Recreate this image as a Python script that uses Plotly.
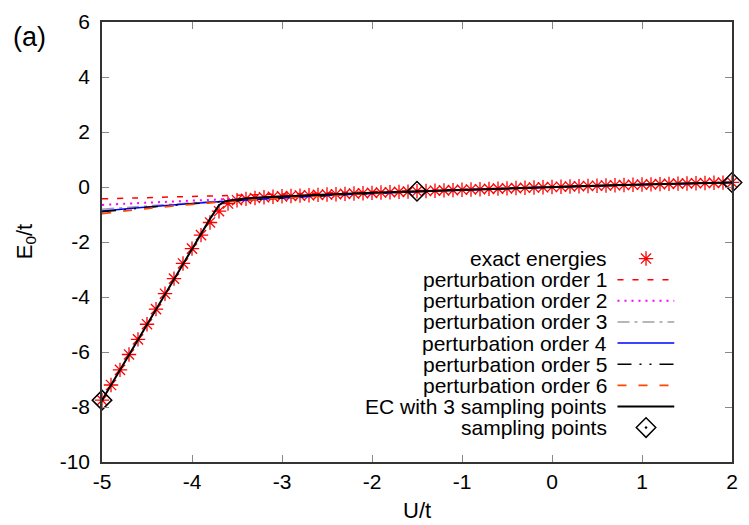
import plotly.graph_objects as go

# ---------------- data ----------------
U_exact = [-5.0, -4.9, -4.8, -4.7, -4.6, -4.5, -4.4, -4.3, -4.2, -4.1,
           -4.0, -3.9, -3.8, -3.7, -3.6, -3.5, -3.4, -3.3, -3.2, -3.1,
           -3.0, -2.9, -2.8, -2.7, -2.6, -2.5, -2.4, -2.3, -2.2, -2.1,
           -2.0, -1.9, -1.8, -1.7, -1.6, -1.5, -1.4, -1.3, -1.2, -1.1,
           -1.0, -0.9, -0.8, -0.7, -0.6, -0.5, -0.4, -0.3, -0.2, -0.1,
           0.0, 0.1, 0.2, 0.3, 0.4, 0.5, 0.6, 0.7, 0.8, 0.9,
           1.0, 1.1, 1.2, 1.3, 1.4, 1.5, 1.6, 1.7, 1.8, 1.9, 2.0]
E_exact = [-7.75, -7.20, -6.65, -6.09, -5.54, -4.99, -4.44, -3.88, -3.33, -2.78,
           -2.24, -1.75, -1.29, -0.88, -0.60, -0.48, -0.43, -0.40, -0.375, -0.355,
           -0.339, -0.326, -0.313, -0.300, -0.288, -0.275, -0.263, -0.250, -0.238, -0.226,
           -0.214, -0.202, -0.190, -0.179, -0.167, -0.156, -0.145, -0.134, -0.123, -0.112,
           -0.101, -0.090, -0.080, -0.069, -0.059, -0.049, -0.039, -0.029, -0.019, -0.010,
           0.000, 0.009, 0.019, 0.028, 0.037, 0.046, 0.055, 0.064, 0.072, 0.081,
           0.089, 0.097, 0.105, 0.113, 0.121, 0.129, 0.137, 0.144, 0.152, 0.159, 0.166]

U_pt = [-5.0, -4.5, -4.0, -3.5, -3.0, -2.5, -2.0, -1.5, -1.0, -0.5, 0.0, 0.5, 1.0, 1.5, 2.0]
E_pt1 = [-0.430, -0.387, -0.344, -0.301, -0.258, -0.215, -0.172, -0.129, -0.086, -0.043, 0.0, 0.043, 0.086, 0.129, 0.172]
E_pt2 = [-0.650, -0.572, -0.496, -0.424, -0.354, -0.288, -0.224, -0.164, -0.106, -0.052, 0.0, 0.046, 0.089, 0.129, 0.166]
E_pt3 = [-0.810, -0.689, -0.578, -0.478, -0.389, -0.308, -0.234, -0.168, -0.107, -0.052, 0.0, 0.046, 0.089, 0.129, 0.166]
E_pt4 = [-0.870, -0.728, -0.603, -0.492, -0.397, -0.311, -0.236, -0.169, -0.107, -0.052, 0.0, 0.046, 0.089, 0.129, 0.166]
E_pt5 = [-0.900, -0.746, -0.613, -0.497, -0.399, -0.312, -0.236, -0.169, -0.107, -0.052, 0.0, 0.046, 0.089, 0.129, 0.166]
E_pt6 = [-0.970, -0.783, -0.631, -0.505, -0.402, -0.313, -0.236, -0.169, -0.107, -0.052, 0.0, 0.046, 0.089, 0.129, 0.166]

U_ec = [-5.0, -4.5, -4.0, -3.9, -3.8, -3.7, -3.65, -3.6, -3.5, -3.4, -3.2, -3.0,
        -2.5, -2.0, -1.5, -1.0, -0.5, 0.0, 0.5, 1.0, 1.5, 2.0]
E_ec = [-7.75, -4.99, -2.23, -1.69, -1.16, -0.66, -0.55, -0.50, -0.45, -0.42, -0.37, -0.337,
        -0.274, -0.213, -0.156, -0.100, -0.049, 0.0, 0.046, 0.089, 0.129, 0.166]

U_samp = [-5.0, -1.5, 2.0]
E_samp = [-7.75, -0.156, 0.166]

x_ticks = [-5, -4, -3, -2, -1, 0, 1, 2]
y_ticks = [-10, -8, -6, -4, -2, 0, 2, 4, 6]

legend_labels = ["exact energies", "perturbation order 1", "perturbation order 2",
                 "perturbation order 3", "perturbation order 4", "perturbation order 5",
                 "perturbation order 6", "EC with 3 sampling points", "sampling points"]

# ---------------- styles ----------------
FONT = "Liberation Sans, Arial, Helvetica, sans-serif"
W, H = 749, 525
L, R, T, B = 102.3, 738.3, 20.0, 462.3   # plot frame in pixels

pt_styles = [
    (E_pt1, "#ff0000", "6px,9px", 1.5),
    (E_pt2, "#ff00ff", "2px,5px", 2.0),
    (E_pt3, "#a0a0a0", "12px,5px,3px,5px", 1.5),
    (E_pt4, "#0000ff", "solid", 1.5),
    (E_pt5, "#000000", "14px,8px,2px,8px,2px,8px", 1.5),
    (E_pt6, "#ff4500", "9px,12px", 1.8),
]

star_marker = dict(symbol="asterisk-open", size=12, color="#ff0000",
                   line=dict(color="#ff0000", width=1.3))
diamond_marker = dict(symbol="diamond-open-dot", size=15, color="#000000",
                      line=dict(color="#000000", width=1.5))


def px_x(p):
    return (p - L) / (R - L)


def px_y(p):
    return (B - p) / (B - T)


fig = go.Figure()

fig.add_trace(go.Scatter(x=U_exact, y=E_exact, mode="markers", marker=star_marker,
                         cliponaxis=False, showlegend=False))
for ys, col, dash, wdt in pt_styles:
    fig.add_trace(go.Scatter(x=U_pt, y=ys, mode="lines", line_shape="spline",
                             line=dict(color=col, dash=dash, width=wdt),
                             showlegend=False))
fig.add_trace(go.Scatter(x=U_ec, y=E_ec, mode="lines",
                         line=dict(color="#000000", width=2), showlegend=False))
fig.add_trace(go.Scatter(x=U_samp, y=E_samp, mode="markers", marker=diamond_marker,
                         cliponaxis=False, showlegend=False))

# ---------------- manual gnuplot-style legend ----------------
row_y = [257.8, 279.0, 300.3, 321.5, 342.8, 364.0, 385.2, 406.5, 427.7]
text_right = 614.0
samp_l, samp_r, samp_c = 622.7, 680.0, 651.5

for lab, yy in zip(legend_labels, row_y):
    fig.add_annotation(x=px_x(text_right), y=px_y(yy), xref="paper", yref="paper",
                       text=lab, showarrow=False, xanchor="right", yanchor="middle",
                       font=dict(family=FONT, size=21, color="#000000"))

line_rows = [(s[1], s[2], s[3]) for s in pt_styles] + [("#000000", "solid", 2)]
for (col, dash, wdt), yy in zip(line_rows, row_y[1:8]):
    fig.add_shape(type="line", xref="paper", yref="paper",
                  x0=px_x(samp_l), x1=px_x(samp_r), y0=px_y(yy), y1=px_y(yy),
                  line=dict(color=col, dash=dash, width=wdt))

# legend marker samples on a hidden overlay axis pair (0..1 = plot area)
fig.add_trace(go.Scatter(x=[px_x(samp_c)], y=[px_y(row_y[0])], xaxis="x2", yaxis="y2",
                         mode="markers", showlegend=False, marker=star_marker))
fig.add_trace(go.Scatter(x=[px_x(samp_c)], y=[px_y(row_y[8])], xaxis="x2", yaxis="y2",
                         mode="markers", showlegend=False, marker=diamond_marker))

# ---------------- titles ----------------
fig.add_annotation(x=px_x(29), y=px_y(35), xref="paper", yref="paper", text="(a)",
                   xanchor="center", yanchor="middle",
                   showarrow=False, font=dict(family=FONT, size=27, color="#000000"))
fig.add_annotation(x=px_x(420), y=px_y(511), xref="paper", yref="paper", text="U/t",
                   xanchor="center", yanchor="middle",
                   showarrow=False, font=dict(family=FONT, size=22, color="#000000"))
fig.add_annotation(x=px_x(25), y=px_y(241), xref="paper", yref="paper",
                   text="E<sub>0</sub>/t", textangle=-90,
                   xanchor="center", yanchor="middle",
                   showarrow=False, font=dict(family=FONT, size=22, color="#000000"))

axis_common = dict(showline=True, linecolor="#333333", linewidth=1.5, mirror="ticks",
                   ticks="inside", ticklen=7, tickcolor="#888888", tickwidth=1,
                   showgrid=False, zeroline=False,
                   tickfont=dict(family=FONT, size=21, color="#000000"))

fig.update_layout(
    width=W, height=H,
    margin=dict(l=L, r=W - R, t=T, b=H - B, pad=0),
    paper_bgcolor="white", plot_bgcolor="white",
    xaxis=dict(range=[-5, 2], tickvals=x_ticks, ticktext=[str(v) for v in x_ticks],
               ticklabelstandoff=0, **axis_common),
    yaxis=dict(range=[-10, 6], tickvals=y_ticks, ticktext=[str(v) for v in y_ticks],
               ticklabelstandoff=6, **axis_common),
    xaxis2=dict(overlaying="x", range=[0, 1], visible=False),
    yaxis2=dict(overlaying="y", range=[0, 1], visible=False),
)

fig.write_html("out.html")
